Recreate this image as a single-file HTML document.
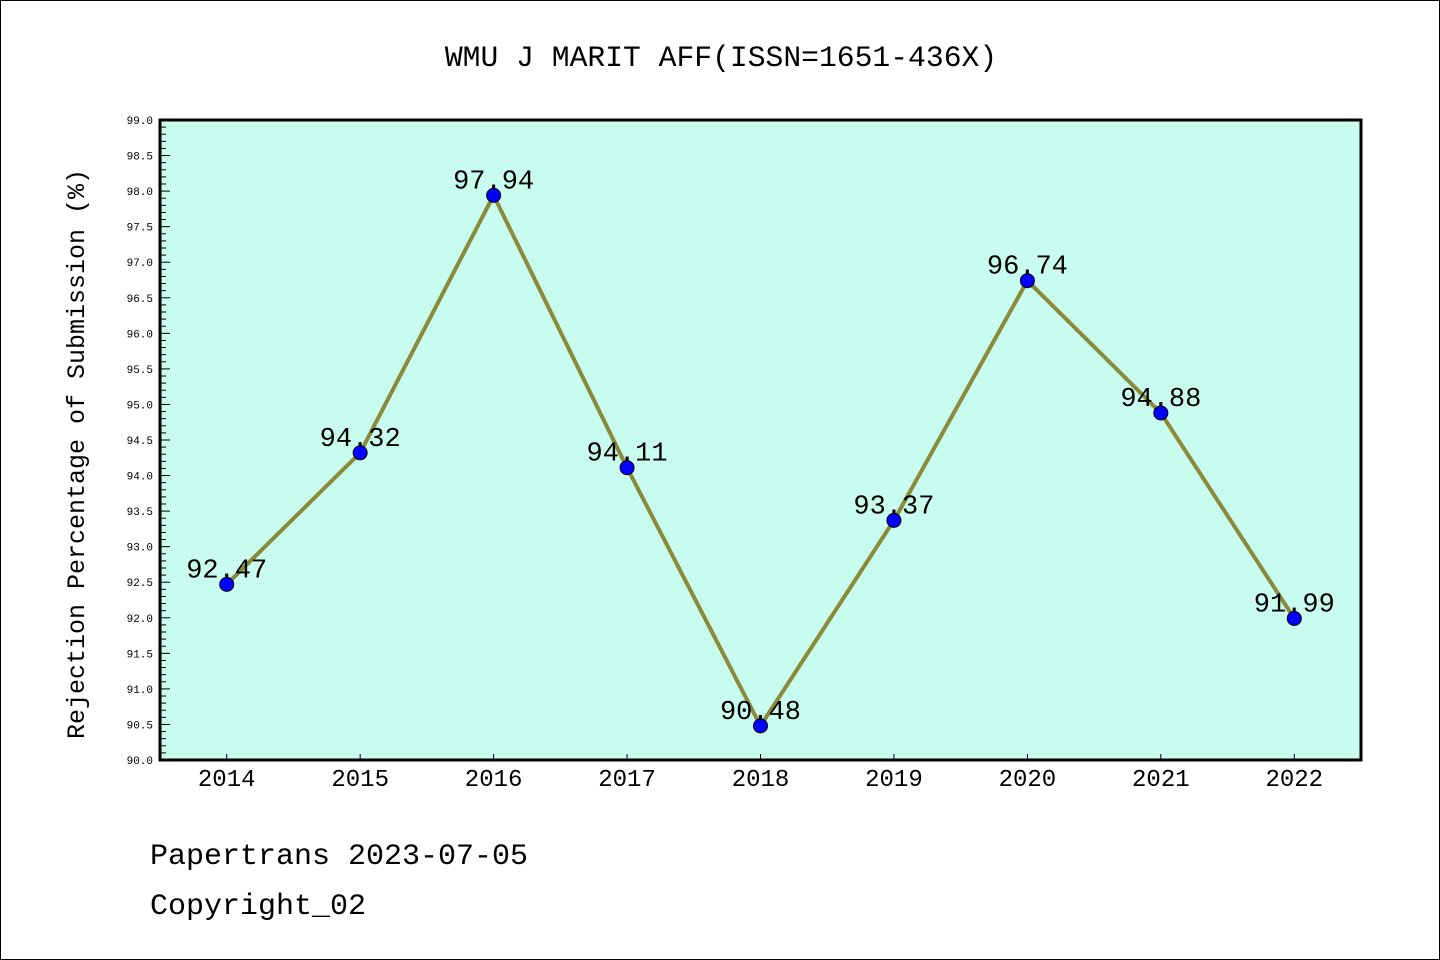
<!DOCTYPE html>
<html><head><meta charset="utf-8"><style>
body{margin:0;background:#fff}
svg{display:block}
text{font-family:"Liberation Mono","DejaVu Sans Mono",monospace}
</style></head><body>
<svg id="chart" width="1440" height="960" xmlns="http://www.w3.org/2000/svg">
<rect x="0.5" y="0.5" width="1439" height="959" fill="#fff" stroke="#000"/>
<text x="721" y="66" text-anchor="middle" font-size="29.7">WMU J MARIT AFF(ISSN=1651-436X)</text>
<rect x="160" y="120" width="1201" height="640" fill="#c8fcee"/>
<g id="yticks"></g>
<g id="xticks"></g>
<g id="series"></g>
<rect x="160" y="120" width="1201" height="640" fill="none" stroke="#000" stroke-width="3"/>
<text transform="translate(84,454) rotate(-90)" text-anchor="middle" font-size="25">Rejection Percentage of Submission (%)</text>
<text x="150" y="864" font-size="30">Papertrans 2023-07-05</text>
<text x="150" y="914" font-size="30">Copyright_02</text>
</svg>
<script>
const years=[2014,2015,2016,2017,2018,2019,2020,2021,2022];
const values=[92.47,94.32,97.94,94.11,90.48,93.37,96.74,94.88,91.99];
const labels=["92.47","94.32","97.94","94.11","90.48","93.37","96.74","94.88","91.99"];
const yMin=90,yMax=99;
const NS="http://www.w3.org/2000/svg";
const X0=160,X1=1361,Y0=760,Y1=120;
function xs(v){return X0+(v-(years[0]-0.5))/(years.length)*(X1-X0);}
function ys(v){return Y0-(v-yMin)/(yMax-yMin)*(Y0-Y1);}
function mk(tag,attrs,parent){const e=document.createElementNS(NS,tag);for(const k in attrs)e.setAttribute(k,attrs[k]);parent.appendChild(e);return e;}
const yg=document.getElementById('yticks');
for(let i=0;i<=90;i++){
  const v=yMin+i*0.1,y=ys(v),maj=i%5===0;
  const t=mk('line',{x1:X0,x2:X0+(maj?10:6),y1:y,y2:y,stroke:'#000','stroke-width':1},yg);
  
  
  if(maj){
    const l=mk('text',{x:X0-7,y:y+4,'text-anchor':'end','font-size':11},yg);
    
    
    l.textContent=v.toFixed(1);
  }
}
const xg=document.getElementById('xticks');
years.forEach(yr=>{
  const x=xs(yr);
  const t=mk('line',{x1:x,x2:x,y1:Y0,y2:Y0-6,stroke:'#000','stroke-width':1},xg);
  
  
  const l=mk('text',{x:x,y:Y0+26,'text-anchor':'middle','font-size':24,'font-family':'Liberation Sans, sans-serif'},xg);
  
  
  l.textContent=yr;
});
const sg=document.getElementById('series');
const line=mk('polyline',{points:years.map((yr,i)=>xs(yr)+','+ys(values[i])).join(' '),fill:'none',stroke:'#8b8a3a','stroke-width':4},sg);


years.forEach((yr,i)=>{
  const c=mk('circle',{cx:xs(yr),cy:ys(values[i]),r:7,fill:'#0000ff',stroke:'#000','stroke-width':1},sg);
  
  
  const l=mk('text',{x:xs(yr),y:ys(values[i])-7,'text-anchor':'middle','font-size':27,'font-family':'Liberation Sans, sans-serif'},sg);
  
  
  l.textContent=labels[i];
});
</script>
</body></html>
